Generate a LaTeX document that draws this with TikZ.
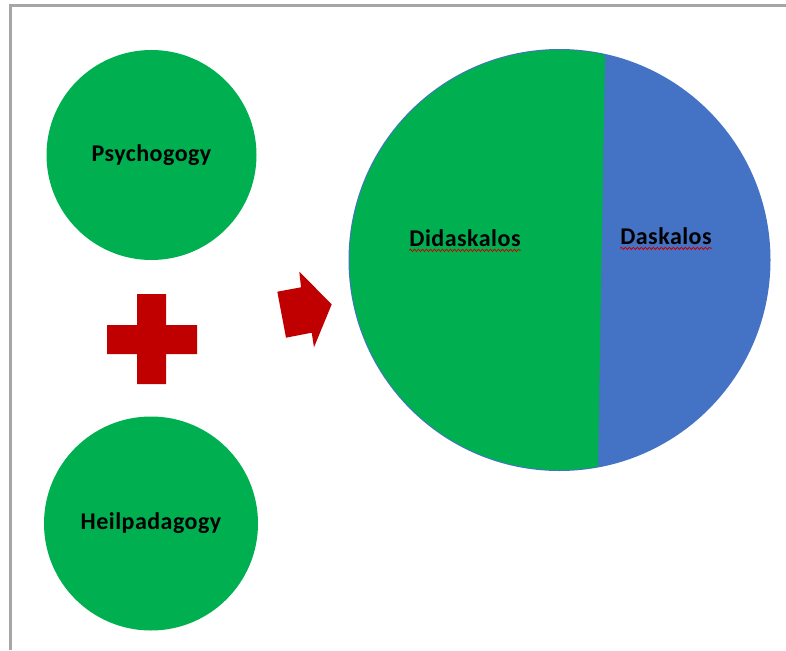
\documentclass[tikz,border=0pt]{standalone}
\usepackage{fontspec}
\setmainfont{Carlito}[LetterSpace=2]
\usetikzlibrary{decorations.pathmorphing}

\definecolor{officegreen}{HTML}{00B050}
\definecolor{officeblue}{HTML}{4472C4}
\definecolor{darkred}{HTML}{C00000}
\definecolor{framegray}{HTML}{A6A6A6}

\begin{document}
\begin{tikzpicture}[x=1pt,y=-1pt,
    disc/.style={circle, fill=officegreen, inner sep=0pt},
    word/.style={inner sep=0pt, font=\bfseries\fontsize{24}{26}\selectfont},
    squiggle/.style={draw=red!80!black, line width=0.8pt, decorate,
        decoration={snake, amplitude=1.1pt, segment length=4pt}}]
        \useasboundingbox (0,0) rectangle (786,650);
        \draw[framegray, line width=3pt] (10.5,650) -- (10.5,6) -- (786,6);

        \node[disc, minimum size=210pt] at (151.5,155) (psy) {};
        \node[word] at (psy) {Psychogogy};

        \node[disc, minimum size=214pt] at (151,523.5) (heil) {};
        \node[word] at (heil) {Heilpadagogy};

        % plus sign
        \fill[darkred] (137,294) -- (166,294) -- (166,325) -- (197,325) -- (197,354)
            -- (166,354) -- (166,384) -- (137,384) -- (137,354) -- (107,354)
            -- (107,325) -- (137,325) -- cycle;

        % tilted arrow
        \fill[darkred] (277.3,291.7) -- (301,287.3) -- (299.3,271.7) -- (331.7,304.3)
            -- (314,347.3) -- (311.7,332.7) -- (286,337.7) -- cycle;

        % big split circle
        \node[circle, fill=officeblue, inner sep=0pt, minimum size=422pt] at (559.5,260) (whole) {};
        \begin{scope}
            \clip (330,30) -- (605.3,30) -- (605,54) -- (598,467) -- (597.8,490) -- (330,490) -- cycle;
            \fill[officegreen] (whole.center) circle (210pt);
        \end{scope}

        \node[word] at (465,238) (dida) {Didaskalos};
        \node[word] at (666,236) (dask) {Daskalos};
        \draw[squiggle] ([yshift=-4pt]dida.base west) -- ([yshift=-4pt]dida.base east);
        \draw[squiggle] ([yshift=-4pt]dask.base west) -- ([yshift=-4pt]dask.base east);
\end{tikzpicture}
\end{document}
